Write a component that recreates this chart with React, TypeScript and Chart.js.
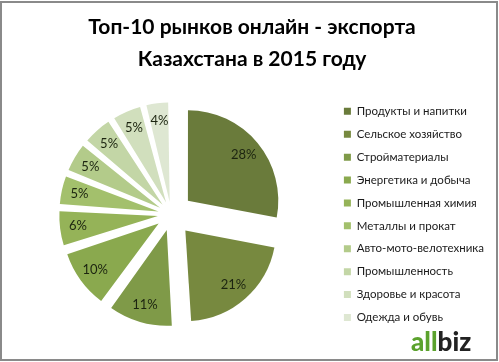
import React, { useEffect, useRef } from "react";
import { Chart, registerables } from "chart.js";

Chart.register(...registerables);

const titleLines = ["Топ-10 рынков онлайн - экспорта", "Казахстана в 2015 году"];
const categories = [
  "Продукты и напитки",
  "Сельское хозяйство",
  "Стройматериалы",
  "Энергетика и добыча",
  "Промышленная химия",
  "Металлы и прокат",
  "Авто-мото-велотехника",
  "Промышленность",
  "Здоровье и красота",
  "Одежда и обувь",
];
const shares = [28, 21, 11, 10, 6, 5, 5, 5, 5, 4];
const colors = [
  "#6a7b3b",
  "#77893f",
  "#7f9a48",
  "#8aa94e",
  "#95b358",
  "#a3c06c",
  "#b3cb8a",
  "#c3d6a6",
  "#d1dfbd",
  "#dee7d2",
];

const EXPLODE = 22;
const FONT = "Lato, 'Open Sans', sans-serif";

const labelPlugin = {
  id: "sliceLabels",
  afterDatasetsDraw(chart: any) {
    const ctx = chart.ctx;
    const meta = chart.getDatasetMeta(0);
    ctx.save();
    ctx.font = `13px ${FONT}`;
    ctx.fillStyle = "#1c2410";
    ctx.textAlign = "center";
    ctx.textBaseline = "middle";
    meta.data.forEach((el: any, i: number) => {
      const { x, y, startAngle, endAngle, outerRadius } = el.getProps(
        ["x", "y", "startAngle", "endAngle", "outerRadius"],
        true
      );
      const mid = (startAngle + endAngle) / 2;
      const d = EXPLODE + outerRadius * 0.8;
      ctx.fillText(shares[i] + "%", x + Math.cos(mid) * d, y + Math.sin(mid) * d);
    });
    ctx.restore();
  },
};

export default function App() {
  const ref = useRef<HTMLCanvasElement>(null);
  useEffect(() => {
    if (!ref.current) return;
    const total = shares.reduce((a, b) => a + b, 0);
    const chart = new Chart(ref.current, {
      type: "pie",
      data: {
        labels: categories,
        datasets: [
          {
            data: shares,
            backgroundColor: colors,
            borderWidth: 0,
            offset: (c: any) => {
              const v = shares[c.dataIndex] ?? 0;
              const circ = (v / total) * Math.PI * 2;
              const fix = 1 - Math.sin(Math.min(Math.PI, circ));
              return (4 * EXPLODE) / (1 + fix);
            },
          },
        ],
      },
      options: {
        responsive: false,
        animation: false,
        radius: 90,
        layout: { padding: { left: 10, right: 5, top: 0, bottom: 8 } },
        plugins: {
          tooltip: { enabled: false },
          title: {
            display: true,
            text: titleLines,
            color: "#000",
            font: { family: FONT, size: 21, weight: "bold", lineHeight: 1.52 },
            padding: { top: 11, bottom: 0 },
          },
          legend: {
            position: "right",
            align: "center",
            fullSize: false,
            labels: {
              boxWidth: 7,
              boxHeight: 7,
              padding: 11.4,
              color: "#1a1a1a",
              font: { family: FONT, size: 11.5 },
            },
          },
        },
      },
      plugins: [labelPlugin],
    });
    return () => chart.destroy();
  }, []);

  return (
    <div style={{ position: "absolute", left: 0, top: 0, width: 499, height: 362, background: "#fff" }}>
      <canvas ref={ref} width={499} height={362} style={{ position: "absolute", left: 0, top: 0 }} />
      <div
        style={{
          position: "absolute",
          left: 0,
          top: 1,
          width: 498,
          height: 360,
          boxSizing: "border-box",
          border: "2px solid #8a8a8a",
          pointerEvents: "none",
        }}
      />
      <div
        style={{
          position: "absolute",
          left: 411,
          top: 327,
          fontFamily: FONT,
          fontWeight: 900,
          fontSize: 26,
          lineHeight: "28px",
          letterSpacing: 0,
        }}
      >
        <span style={{ color: "#5ba22d" }}>all</span>
        <span style={{ color: "#222" }}>biz</span>
      </div>
    </div>
  );
}
